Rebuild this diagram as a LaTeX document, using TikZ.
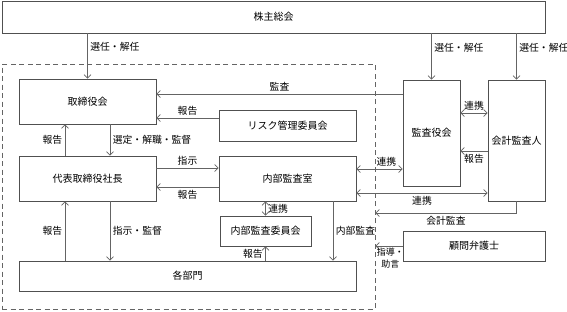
\documentclass[tikz,border=0pt]{standalone}
\usepackage{fontspec}
\setmainfont{Noto Sans CJK JP}
\usepackage{tikz}
\usetikzlibrary{arrows.meta, positioning, calc}
\definecolor{boxgray}{RGB}{80,80,80}
\definecolor{linegray}{RGB}{100,100,100}
\tikzset{
  orgbox/.style={
    rectangle, draw=boxgray, line width=0.9pt, fill=white,
    text centered, font=\fontsize{10}{11}\selectfont, inner sep=0pt
  },
  note/.style={font=\fontsize{9.8}{12.5}\selectfont, inner sep=2.5pt, text=black},
  arrow/.style={-{Straight Barb[length=3.5pt,width=7pt]}, line width=0.7pt, color=linegray},
  dblarrow/.style={{Straight Barb[length=3.5pt,width=7pt]}-{Straight Barb[length=3.5pt,width=7pt]},
    line width=0.7pt, color=linegray},
  groupbox/.style={
    rectangle, draw=linegray, dash pattern=on 5pt off 3.5pt,
    line width=0.8pt, inner sep=0pt
  }
}
\begin{document}
\begin{tikzpicture}[x=1pt, y=-1pt]
  \useasboundingbox (0,0) rectangle (567,311);

  % Company boundary
  \node[groupbox, minimum width=373pt, minimum height=245pt] (group) at (188.5,186.5) {};

  % Boxes
  \node[orgbox, minimum width=543pt, minimum height=32pt] (meeting) at (273.5,17) {株主総会};
  \node[orgbox, minimum width=137pt, minimum height=45pt] (board) at (87.5,101.5) {取締役会};
  \node[orgbox, minimum width=137pt, minimum height=31pt] (risk) at (287.5,125.5) {リスク管理委員会};
  \node[orgbox, minimum width=137pt, minimum height=45pt] (ceo) at (87.5,178.5) {代表取締役社長};
  \node[orgbox, minimum width=137pt, minimum height=45pt] (audit) at (287.5,178.5) {内部監査室};
  \node[orgbox, minimum width=91pt, minimum height=30pt] (auditcom) at (265.5,231) {内部監査委員会};
  \node[orgbox, minimum width=337pt, minimum height=30pt] (depts) at (187.5,276) {各部門};
  \node[orgbox, minimum width=57pt, minimum height=106pt] (kansa) at (431.5,133) {監査役会};
  \node[orgbox, minimum width=57pt, minimum height=121pt] (cpa) at (516.5,140.5) {会計監査人};
  \node[orgbox, minimum width=142pt, minimum height=30pt] (lawyer) at (474,246) {顧問弁護士};

  % Appointment
  \draw[arrow] (meeting.south -| board.north) -- node[note, right, pos=0.3] {選任・解任} (board.north);
  \draw[arrow] (meeting.south -| kansa.north) -- node[note, right, pos=0.3] {選任・解任} (kansa.north);
  \draw[arrow] (meeting.south -| cpa.north) -- node[note, right, pos=0.3] {選任・解任} (cpa.north);

  % Board and president
  \draw[arrow] ([yshift=39pt]kansa.west) -- node[note, above] {監査} ([yshift=7.5pt]board.east);
  \draw[arrow] ([yshift=7.5pt]risk.west) -- node[note, above] {報告} ([yshift=-16.5pt]board.east);
  \draw[arrow] ([xshift=22.5pt]board.south) -- node[note, right] {選定・解職・監督} ([xshift=22.5pt]ceo.north);
  \draw[arrow] ([xshift=-22.5pt]ceo.north) -- node[note, left] {報告} ([xshift=-22.5pt]board.south);
  \draw[arrow] ([yshift=10.5pt]ceo.east) -- node[note, above] {指示} ([yshift=10.5pt]audit.west);
  \draw[arrow] ([yshift=-8.5pt]audit.west) -- node[note, below] {報告} ([yshift=-8.5pt]ceo.east);

  % Departments
  \draw[arrow] ([xshift=22.5pt]ceo.south) -- node[note, right] {指示・監督} ([xshift=-77.5pt]depts.north);
  \draw[arrow] ([xshift=-122.5pt]depts.north) -- node[note, left] {報告} ([xshift=-22.5pt]ceo.south);
  \draw[dblarrow] (audit.south -| auditcom.north) -- node[note, right] {連携} (auditcom.north);
  \draw[arrow] (depts.north -| auditcom.south) -- node[note, left] {報告} (auditcom.south);
  \draw[arrow] ([xshift=45.5pt]audit.south) -- node[note, right] {内部監査} ([xshift=145.5pt]depts.north);

  % Auditors
  \draw[dblarrow] ([yshift=20pt]kansa.east) -- node[note, above] {連携} ([yshift=27.5pt]cpa.west);
  \draw[arrow] ([yshift=-10.5pt]cpa.west) -- node[note, below] {報告} ([yshift=-18pt]kansa.east);
  \draw[dblarrow] ([yshift=9.5pt]audit.east) -- node[note, above, pos=0.65] {連携} ([yshift=-36pt]kansa.west);
  \draw[dblarrow] ([yshift=-14.5pt]audit.east) -- node[note, below] {連携} ([yshift=-52.5pt]cpa.west);
  \draw[arrow] (cpa.south) |- node[note, below, pos=0.75] {会計監査} ([yshift=-26.5pt]group.east);

  % Legal advice
  \draw[arrow] (lawyer.west) -- node[note, below, align=center, inner sep=1.5pt, xshift=1.5pt,
    font=\fontsize{9}{12.5}\selectfont] {指導・\\助言} (lawyer.west -| group.east);
\end{tikzpicture}
\end{document}
